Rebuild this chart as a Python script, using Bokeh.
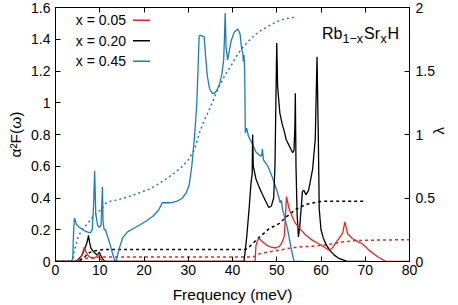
import math
from bokeh.plotting import figure
from bokeh.models import (Range1d, LinearAxis, FixedTicker, Label, BoxAnnotation,
                          CustomLabelingPolicy)
from bokeh.embed import file_html
from bokeh.resources import INLINE

# ---------------- data ----------------
series_names = ["x = 0.05", "x = 0.20", "x = 0.45"]

# x = 0.45 : alpha^2 F(omega)
freq_045 = [0, 3.6, 3.9, 4.1, 4.3, 4.7, 5.4, 6.5, 7.3, 7.9, 8.3, 8.6, 8.85, 9.1, 9.5, 9.9,
            10.3, 10.6, 10.75, 11.0, 11.3, 12.2, 12.8, 13.4, 13.7, 14.1, 14.6, 15.2, 16.2,
            17.4, 19.0, 20.5, 22.0, 23.2, 23.8, 24.1, 24.5, 26.0, 27.5, 28.5, 29.5, 30.2,
            30.8, 31.4, 31.9, 32.2, 32.45, 32.7, 33.2, 33.6, 33.9, 34.3, 34.8, 35.4, 35.9,
            36.5, 37.1, 37.6, 38.0, 38.2, 38.35, 38.55, 38.9, 39.3, 39.7, 40.4, 41.2, 41.7,
            42.1, 42.3, 42.45, 42.6, 42.75, 42.9, 43.2, 43.6, 44.5, 45.3, 46.3, 46.6, 46.75,
            47.0, 48.0, 49.0, 50.0, 50.8, 51.05, 51.3, 52.4, 53.2, 53.9, 56.0]
a2f_045 = [0, 0, 0.02, 0.2, 0.275, 0.235, 0.215, 0.195, 0.185, 0.18, 0.2, 0.35, 0.57, 0.3,
           0.23, 0.215, 0.23, 0.47, 0.25, 0.2, 0.2, 0.12, 0.06, 0.005, 0, 0.05, 0.1, 0.15,
           0.185, 0.205, 0.23, 0.255, 0.285, 0.32, 0.35, 0.37, 0.37, 0.37, 0.38, 0.395,
           0.43, 0.48, 0.6, 0.78, 0.98, 1.2, 1.42, 1.425, 1.42, 1.415, 1.3, 1.17, 1.09,
           1.06, 1.06, 1.08, 1.12, 1.18, 1.27, 1.42, 1.565, 1.35, 1.27, 1.33, 1.39, 1.445,
           1.465, 1.435, 1.33, 1.32, 1.26, 1.30, 1.2, 0.81, 0.84, 0.79, 0.74, 0.69, 0.665,
           0.665, 0.71, 0.64, 0.60, 0.53, 0.45, 0.37, 0.385, 0.33, 0.21, 0.09, 0.0, 0.0]

# x = 0.20 : alpha^2 F(omega)
freq_020 = [0, 4.6, 5.2, 6.0, 6.6, 7.0, 7.3, 7.45, 7.7, 8.0, 8.5, 9.0, 9.5, 9.9, 10.3, 10.7,
            11.2, 42.6, 43.2, 43.8, 44.2, 44.45, 44.55, 44.7, 45.3, 46.0, 46.8, 47.5, 48.2,
            48.8, 49.3, 49.6, 49.8, 50.0, 50.2, 50.7, 51.2, 51.7, 52.1, 52.8, 53.6, 53.9,
            54.1, 54.2, 54.35, 54.6, 54.9, 55.2, 55.5, 55.8, 56.1, 56.6, 57.2, 58.1, 58.7,
            59.1, 59.4, 59.6, 60.0, 60.5, 61.1, 62.0, 63.0, 64.0, 65.0, 66.0, 70.0]
a2f_020 = [0, 0, 0.015, 0.04, 0.08, 0.11, 0.14, 0.165, 0.12, 0.085, 0.065, 0.05, 0.04, 0.06,
           0.035, 0.015, 0, 0, 0.15, 0.35, 0.5, 0.55, 0.8, 0.6, 0.52, 0.47, 0.42, 0.38,
           0.34, 0.35, 0.40, 0.6, 1.0, 1.377, 1.10, 0.935, 0.87, 0.82, 0.77, 0.73, 0.685,
           0.7, 0.85, 1.06, 0.6, 0.3, 0.155, 0.22, 0.33, 0.44, 0.45, 0.42, 0.45, 0.58,
           0.77, 1.29, 0.77, 0.33, 0.2, 0.15, 0.11, 0.07, 0.04, 0.02, 0.01, 0, 0]

# x = 0.05 : alpha^2 F(omega)
freq_005 = [0, 4.7, 5.3, 5.8, 6.2, 6.5, 6.9, 7.3, 7.7, 8.4, 9.0, 9.4, 9.7, 10.1, 10.6, 45.1,
            45.3, 45.7, 46.0, 46.8, 47.6, 48.7, 49.8, 50.6, 51.2, 51.7, 51.95, 52.2, 52.8,
            54.0, 55.1, 56.6, 58.1, 59.6, 60.8, 61.9, 62.7, 63.4, 64.2, 64.9, 65.4, 66.0,
            67.1, 68.3, 69.4, 70.2, 70.9, 72.8, 74.7, 80.0]
a2f_005 = [0, 0, 0.01, 0.03, 0.06, 0.09, 0.06, 0.04, 0.03, 0.02, 0.025, 0.035, 0.05, 0.02,
           0, 0, 0.1, 0.135, 0.145, 0.125, 0.105, 0.09, 0.085, 0.095, 0.12, 0.16, 0.28,
           0.41, 0.33, 0.25, 0.21, 0.165, 0.133, 0.11, 0.09, 0.07, 0.09, 0.12, 0.15, 0.18,
           0.25, 0.175, 0.145, 0.125, 0.11, 0.09, 0.07, 0.03, 0, 0]

# cumulative lambda(omega)
lfreq_045 = [0, 3.8, 4.3, 5.0, 5.5, 6.5, 7.5, 8.4, 9.3, 10.3, 11.4, 12.5, 14.0, 15.5, 17.4,
             19.3, 21.2, 23.0, 25.0, 27.0, 28.7, 30.0, 31.4, 32.5, 33.6, 34.8, 36.0, 37.0,
             38.5, 40.0, 41.3, 42.7, 44.3, 46.0, 48.0, 49.8, 51.7, 54.2]
lam_045 = [0, 0, 0.09, 0.18, 0.22, 0.27, 0.31, 0.35, 0.38, 0.41, 0.46, 0.475, 0.485, 0.50,
           0.52, 0.545, 0.57, 0.605, 0.65, 0.70, 0.75, 0.80, 0.88, 1.01, 1.11, 1.2, 1.30,
           1.38, 1.48, 1.56, 1.64, 1.70, 1.76, 1.81, 1.85, 1.885, 1.91, 1.925]

lfreq_020 = [0, 4.5, 5.5, 6.5, 7.2, 8.0, 9.0, 10.0, 11.0, 43.0, 43.8, 44.8, 46.0, 47.2, 48.3,
             49.5, 50.6, 52.1, 53.2, 54.3, 55.5, 56.6, 58.0, 59.5, 61.1, 63.0, 66.0, 70.0]
lam_020 = [0, 0, 0.01, 0.03, 0.06, 0.075, 0.085, 0.09, 0.095, 0.095, 0.115, 0.15, 0.19,
           0.225, 0.26, 0.28, 0.30, 0.35, 0.38, 0.41, 0.43, 0.45, 0.46, 0.47, 0.475, 0.475,
           0.475, 0.475]

lfreq_005 = [0, 4.5, 5.5, 6.5, 7.5, 9.0, 11.0, 44.5, 45.5, 46.0, 48.0, 50.6, 53.0, 55.1,
             58.0, 62.0, 65.0, 68.0, 72.0, 80.0]
lam_005 = [0, 0, 0.008, 0.02, 0.028, 0.033, 0.035, 0.035, 0.045, 0.06, 0.075, 0.09, 0.105,
           0.115, 0.12, 0.135, 0.155, 0.165, 0.168, 0.172]

x_ticks = [0, 10, 20, 30, 40, 50, 60, 70, 80]
y_ticks = [0, 0.2, 0.4, 0.6, 0.8, 1.0, 1.2, 1.4, 1.6]
lam_ticks = [0, 0.5, 1.0, 1.5, 2.0]

# ---------------- style ----------------
RED, BLACK, BLUE = "#e6261f", "#000000", "#1c7bbf"
FONT = "Liberation Sans"
W, H = 458, 305
ML, MR, MT, MB = 55, 47, 7, 42
FW, FH = W - ML - MR, H - MT - MB

p = figure(width=W, height=H, output_backend="svg", toolbar_location=None,
           x_range=Range1d(0, 80), y_range=Range1d(0, 1.6),
           min_border_left=ML, min_border_right=MR, min_border_top=MT, min_border_bottom=MB,
           x_axis_label="Frequency (meV)", y_axis_label="α²F(ω)")
p.extra_y_ranges = {"lam": Range1d(0, 2)}
p.xgrid.visible = False
p.ygrid.visible = False
p.outline_line_color = "black"
p.outline_line_width = 1
p.background_fill_color = "white"
p.border_fill_color = "white"

def style_axis(ax, ticks, overrides=None):
    ax.ticker = FixedTicker(ticks=ticks)
    ax.minor_tick_line_color = None
    ax.major_tick_in = 5
    ax.major_tick_out = 0
    ax.axis_line_color = "black"
    ax.major_tick_line_color = "black"
    ax.major_label_text_font = FONT
    ax.major_label_text_font_size = "14px"
    ax.major_label_text_color = "black"
    ax.major_label_standoff = 4
    ax.axis_label_text_font = FONT
    ax.axis_label_text_font_size = "15.5px"
    ax.axis_label_text_font_style = "normal"
    ax.axis_label_text_color = "black"
    ax.axis_label_standoff = 4
    if overrides:
        ax.major_label_overrides = overrides

style_axis(p.xaxis[0], x_ticks)
p.xaxis[0].major_label_standoff = 3
p.xaxis[0].axis_label_standoff = 8
style_axis(p.yaxis[0], y_ticks, {0: "0", 1: "1"})
p.yaxis[0].major_label_orientation = "horizontal"
p.yaxis[0].major_label_standoff = 5
p.yaxis[0].axis_label_standoff = 4

# top axis: mirrored ticks only, labels filtered out
top_ax = LinearAxis()
style_axis(top_ax, x_ticks)
top_ax.major_label_standoff = 0
top_ax.major_label_text_font_size = "1px"
top_ax.major_label_policy = CustomLabelingPolicy(
    code="const ids = [...indices]; for (const i of ids) { indices.unset(i) } return indices")
p.add_layout(top_ax, "above")

right_ax = LinearAxis(y_range_name="lam", axis_label="λ")
style_axis(right_ax, lam_ticks, {0: "0", 1: "1", 2: "2"})
right_ax.axis_label_text_font_size = "15px"
right_ax.major_label_standoff = 6
right_ax.axis_label_standoff = 1
right_ax.axis_label_orientation = math.pi / 2
p.add_layout(right_ax, "right")

# ---------------- curves ----------------
p.line(lfreq_005, lam_005, color=RED, line_width=1.5, line_dash="3 3", y_range_name="lam")
p.line(lfreq_020, lam_020, color=BLACK, line_width=1.5, line_dash="3 3", y_range_name="lam")
p.line(lfreq_045, lam_045, color=BLUE, line_width=1.5, line_dash="2 3", y_range_name="lam")
p.line(freq_045, a2f_045, color=BLUE, line_width=1.3)
p.line(freq_020, a2f_020, color=BLACK, line_width=1.3)
p.line(freq_005, a2f_005, color=RED, line_width=1.3)

# ---------------- legend (text then line sample) ----------------
row_y = [14.7, 35.3, 55.7]          # px from frame top
for name, col, ry in zip(series_names, [RED, BLACK, BLUE], row_y):
    p.add_layout(Label(x=70.5, y=FH - ry, x_units="screen", y_units="screen", text=name,
                       text_font=FONT, text_font_size="14px", text_align="right",
                       text_baseline="middle", text_color="black"))
    p.add_layout(BoxAnnotation(left=77.5, right=94.5, bottom=FH - ry - 0.75,
                               top=FH - ry + 0.75,
                               left_units="screen", right_units="screen",
                               bottom_units="screen", top_units="screen",
                               fill_color=col, fill_alpha=1, line_color=None))

# ---------------- compound label Rb_{1-x}Sr_xH ----------------
parts = [("Rb", 266.5, 0, "16px"), ("1−x", 287.0, -5, "12.5px"), ("Sr", 308.5, 0, "16px"),
         ("x", 325.0, -5, "12.5px"), ("H", 332.0, 0, "16px")]
base = FH - 28
for t, px, dy, fs in parts:
    p.add_layout(Label(x=px, y=base + dy, x_units="screen", y_units="screen", text=t,
                       text_font=FONT, text_font_size=fs, text_align="left",
                       text_baseline="alphabetic", text_color="black"))

open("out.html", "w").write(file_html(p, INLINE))
